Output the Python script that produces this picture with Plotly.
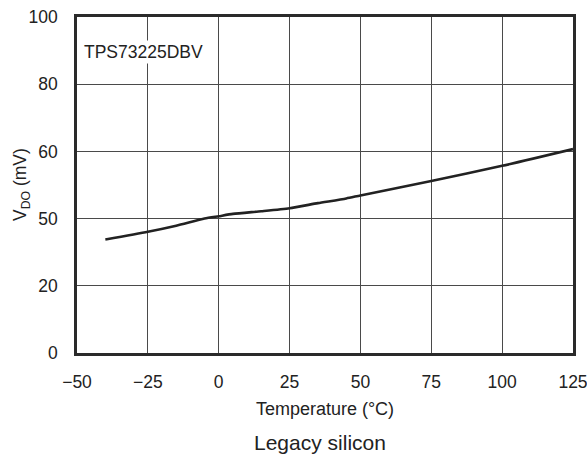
import plotly.graph_objects as go

temperature = [-40, -25, -15, -5, 0, 5, 15, 25, 35, 45, 50, 75, 100, 125]
vdo_mv = [33.8, 36.1, 37.9, 40.0, 40.7, 41.4, 42.2, 43.1, 44.6, 46.0, 46.9, 51.2, 55.7, 60.7]

x_ticks = [-50, -25, 0, 25, 50, 75, 100, 125]
x_tick_text = ["\u221250", "\u221225", "0", "25", "50", "75", "100", "125"]
y_ticks = [0, 20, 40, 60, 80, 100]
y_tick_text = ["0", "20", "50", "60", "80", "100"]

FONT = "Arial, Liberation Sans, Helvetica, sans-serif"

fig = go.Figure()
fig.add_trace(go.Scatter(
    x=temperature, y=vdo_mv, mode="lines",
    line=dict(color="#222222", width=2.6, shape="spline", smoothing=0.6),
    showlegend=False, hoverinfo="skip",
))

fig.update_layout(
    width=587, height=456,
    margin=dict(l=77, r=14, t=17, b=103),
    paper_bgcolor="white", plot_bgcolor="white",
    font=dict(family=FONT, size=17, color="#222222"),
    xaxis=dict(
        range=[-50, 125], tickvals=x_ticks, ticktext=x_tick_text,
        showgrid=True, gridcolor="#4a4a4a", gridwidth=1,
        showline=True, linecolor="#2a2a2a", linewidth=2.5, mirror=True,
        ticks="", ticklabelstandoff=11, zeroline=False, automargin=False,
        ticklabeloverflow="allow",
        tickfont=dict(size=17.5),
        title=dict(text="Temperature (\u00b0C)", font=dict(size=18), standoff=12),
    ),
    yaxis=dict(
        range=[0, 100], tickvals=y_ticks, ticktext=y_tick_text,
        showgrid=True, gridcolor="#4a4a4a", gridwidth=1,
        showline=True, linecolor="#2a2a2a", linewidth=2.5, mirror=True,
        ticks="", ticklabelstandoff=13, zeroline=False, automargin=False,
        ticklabeloverflow="allow",
        tickfont=dict(size=17.5),
    ),
    annotations=[
        dict(text="V<sub>DO</sub> (mV)", x=-0.1129, y=0.5, xref="paper", yref="paper",
             xanchor="center", yanchor="middle", textangle=-90, showarrow=False,
             font=dict(size=17.5)),
        dict(text="TPS73225DBV", x=-48.1, y=89.7, xref="x", yref="y",
             xanchor="left", yanchor="middle", showarrow=False,
             font=dict(size=17.5), bgcolor="white", borderpad=1),
        dict(text="Legacy silicon", x=0.49, y=-0.265, xref="paper", yref="paper",
             xanchor="center", yanchor="middle", showarrow=False,
             font=dict(size=21)),
    ],
)

fig.write_html(
    "out.html",
    config={"displayModeBar": False},
    post_script="document.body.style.margin='0';document.body.style.overflow='hidden';",
)
